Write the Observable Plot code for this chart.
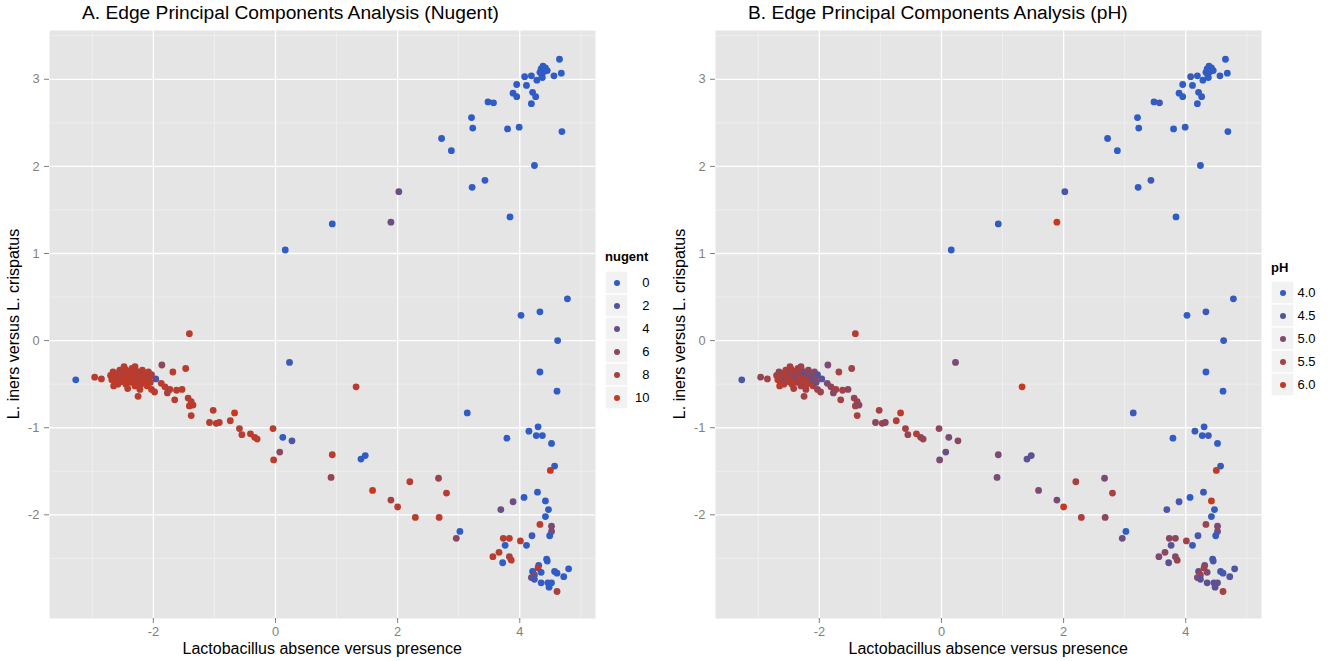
<!DOCTYPE html>
<html><head><meta charset="utf-8">
<script src="https://cdn.jsdelivr.net/npm/d3@7"></script>
<script src="https://cdn.jsdelivr.net/npm/@observablehq/plot@0.6"></script>
<style>
body{margin:0;background:#fff;font-family:"Liberation Sans",Arial,Helvetica,sans-serif;}
#wrap{position:relative;width:1332px;height:661px;overflow:hidden;background:#fff;}
.abs{position:absolute;white-space:nowrap;}
.ptitle{font-size:19.2px;color:#000;}
.xtitle{font-size:16px;color:#000;}
.ytitle{font-size:16px;color:#000;transform:rotate(-90deg);transform-origin:center center;}
.ltitle{font-size:13px;font-weight:bold;color:#000;}
</style></head><body><div id="wrap"></div>
<script>
// ---- data: [x, y, nugent, pH] ----
const ptsTop = [
[4.65,3.23,0,4.0],[4.68,3.07,0,4.0],[4.56,3.04,0,4.1],[4.35,3.12,0,4.0],[4.38,3.15,0,4.0],[4.42,3.13,0,4.0],
[4.40,3.09,0,4.2],[4.33,3.08,0,4.0],[4.45,3.10,0,4.0],[4.36,3.05,0,4.1],[4.28,2.99,0,4.0],[4.37,3.02,0,4.0],
[4.19,3.04,0,4.0],[4.08,3.03,0,4.2],[3.95,2.94,0,4.0],[4.11,2.93,0,4.0],[4.21,2.85,0,4.0],[4.26,2.80,0,4.1],
[3.89,2.84,0,4.0],[3.95,2.80,0,4.0],[4.19,2.72,0,4.0],[3.48,2.74,0,4.0],[3.57,2.73,0,4.2],[3.21,2.56,0,4.0],
[3.23,2.44,0,4.0],[3.80,2.43,0,4.0],[3.99,2.45,0,4.1],[4.69,2.40,0,4.0],[2.72,2.32,0,4.0],[2.88,2.18,0,4.0],
[4.24,2.01,0,4.0],[3.22,1.76,0,4.0],[3.43,1.84,0,4.2],[3.84,1.42,0,4.0]
];
const ptsMid = [
[2.02,1.71,4,4.3],[1.89,1.36,4,6.0],[0.93,1.34,0,4.1],[0.16,1.04,0,4.0],
[4.78,0.48,0,4.1],[4.02,0.29,0,4.0],[4.33,0.33,0,4.2],[4.62,0.00,0,4.1],[4.33,-0.36,0,4.0],[4.61,-0.58,0,4.0],
[0.23,-0.25,1,5.0],[1.32,-0.53,9,6.0],[3.14,-0.83,0,4.2]
];
const ptsLowRight = [
[3.79,-1.12,0,4.0],[4.15,-1.04,0,4.1],[4.30,-0.99,0,4.0],[4.27,-1.09,0,4.0],[4.37,-1.09,0,4.2],[4.52,-1.18,0,4.0],
[4.57,-1.44,0,4.1],[4.50,-1.49,10,5.8],[4.29,-1.74,0,4.2],[4.07,-1.80,0,4.0],[3.89,-1.85,4,4.3],[3.69,-1.94,4,4.4],
[4.42,-1.84,0,6.0],[4.47,-1.94,0,4.0],[4.42,-2.02,0,4.0],[4.33,-2.11,9,5.4],[4.52,-2.13,5,5.0],[4.52,-2.19,5,5.0],
[4.49,-2.24,0,4.0],[4.20,-2.24,1,4.3],[4.11,-2.35,0,4.1],[4.01,-2.30,9,5.5],[3.73,-2.27,9,5.2],[3.83,-2.27,9,5.3],
[3.76,-2.35,0,4.5],[3.66,-2.43,9,5.2],[3.56,-2.48,9,5.0],[3.83,-2.48,8,5.0],[3.86,-2.52,9,5.4],[3.72,-2.55,0,4.6],
[4.44,-2.51,0,4.2],[4.45,-2.53,0,4.4],[4.31,-2.58,0,4.8],[4.30,-2.61,9,5.6],[4.21,-2.65,0,4.7],[4.35,-2.66,0,5.0],
[4.24,-2.69,4,5.5],[4.19,-2.72,4,5.0],[4.24,-2.74,1,4.5],[4.57,-2.65,0,4.2],[4.61,-2.67,0,4.3],[4.72,-2.71,0,4.4],
[4.80,-2.62,0,4.4],[4.35,-2.78,0,4.6],[4.46,-2.78,0,4.5],[4.52,-2.78,0,4.7],[4.48,-2.83,0,4.6],[4.61,-2.88,8,5.6]
];
const ptsBand = [
[-1.41,0.08,9,5.7],[-3.27,-0.45,0,4.4],[-2.96,-0.42,9,5.3],[-2.85,-0.44,9,5.5],[-2.25,-0.64,9,5.5],[-1.96,-0.44,2,4.5],
[-1.86,-0.28,6,5.0],[-1.68,-0.36,9,5.6],[-1.47,-0.32,9,5.5],[-2.03,-0.56,9,5.3],[-1.98,-0.59,9,5.5],[-1.87,-0.49,9,5.0],
[-1.81,-0.53,9,5.3],[-1.73,-0.56,9,5.6],[-1.77,-0.60,8,5.2],[-1.62,-0.57,9,5.5],[-1.53,-0.56,9,5.2],[-1.65,-0.68,9,5.6],
[-1.43,-0.66,9,5.3],[-1.38,-0.70,9,5.5],[-1.41,-0.75,9,5.5],[-1.35,-0.74,9,5.2],[-1.38,-0.86,9,5.7],[-1.02,-0.80,9,5.6],
[-0.67,-0.83,10,5.9],[-1.08,-0.94,9,5.2],[-0.97,-0.95,9,5.5],[-0.92,-0.94,9,5.2],[-0.74,-0.92,9,5.7],[-0.59,-1.01,9,5.6],
[-0.55,-1.08,9,5.4],[-0.41,-1.07,9,5.8],[-0.34,-1.11,9,5.2],[-0.30,-1.13,9,5.4],[-0.04,-1.01,9,5.3],[-0.03,-1.37,9,5.0],
[0.07,-1.28,6,4.8],[0.12,-1.11,0,5.0],[0.27,-1.15,2,5.2],[0.93,-1.31,9,5.0],[0.91,-1.57,7,5.0],[1.40,-1.36,0,4.6],
[1.47,-1.32,0,4.6],[1.59,-1.72,10,5.0],[1.89,-1.83,8,4.9],[2.00,-1.91,9,6.0],[2.20,-1.62,9,5.6],[2.29,-2.03,9,5.6],
[2.67,-1.58,7,5.0],[2.80,-1.75,9,5.6],[2.68,-2.03,9,5.2],[3.02,-2.19,0,4.0],[2.96,-2.27,6,4.8]
];
const ptsCluster = [
[-2.70,-0.40,9,5.6],[-2.68,-0.45,9,5.8],[-2.66,-0.36,9,5.3],[-2.63,-0.42,9,5.7],[-2.62,-0.48,10,5.8],[-2.60,-0.38,9,5.6],
[-2.57,-0.44,9,5.2],[-2.55,-0.34,9,5.7],[-2.53,-0.40,9,5.8],[-2.52,-0.47,9,5.6],[-2.50,-0.37,8,5.4],[-2.48,-0.43,9,5.7],
[-2.46,-0.33,9,5.6],[-2.45,-0.50,9,5.8],[-2.43,-0.39,9,5.5],[-2.41,-0.45,10,5.9],[-2.40,-0.35,9,5.7],[-2.38,-0.41,9,5.0],
[-2.36,-0.48,9,5.6],[-2.35,-0.32,9,5.7],[-2.33,-0.38,9,5.4],[-2.31,-0.44,9,5.8],[-2.30,-0.52,10,5.6],[-2.28,-0.35,9,5.2],
[-2.26,-0.41,9,5.7],[-2.25,-0.47,9,5.6],[-2.23,-0.37,8,4.7],[-2.21,-0.43,9,5.6],[-2.20,-0.50,9,5.8],[-2.18,-0.34,9,5.4],
[-2.16,-0.40,9,5.2],[-2.15,-0.46,9,5.6],[-2.13,-0.38,9,5.0],[-2.11,-0.44,9,4.7],[-2.10,-0.52,10,5.7],[-2.08,-0.36,9,5.2],
[-2.06,-0.42,9,5.4],[-2.05,-0.48,9,4.8],[-2.03,-0.39,8,4.5],[-2.42,-0.55,9,5.6],[-2.58,-0.50,9,5.7],[-2.65,-0.52,9,5.8],
[-2.22,-0.56,9,5.6],[-2.48,-0.30,9,5.6],[-2.30,-0.30,9,5.5]
];

// ticks
const xMajor = [-2, 0, 2, 4];
const xMinor = [-3, -1, 1, 3, 5];
const yMajor = [-2, -1, 0, 1, 2, 3];
const yMinor = [-2.5, -1.5, -0.5, 0.5, 1.5, 2.5, 3.5];
const nugentLevels = [0, 2, 4, 6, 8, 10];
const phLevels = [4.0, 4.5, 5.0, 5.5, 6.0];
const phLabels = ["4.0", "4.5", "5.0", "5.5", "6.0"];

const lowCol = "#2F5CC6", highCol = "#C8381E";
const data = [...ptsTop, ...ptsMid, ...ptsLowRight, ...ptsBand, ...ptsCluster]
  .map(([x, y, n, p]) => ({x, y, nugent: n, ph: p}));

const FONT = '"Liberation Sans", Arial, Helvetica, sans-serif';
const wrap = document.getElementById("wrap");
const fmt = d => (d < 0 ? "-" : "") + Math.abs(d);

function colorScale(domain) {
  return {type: "linear", domain, range: [lowCol, highCol], interpolate: "rgb"};
}

function panel(field, domain) {
  return Plot.plot({
    width: 666, height: 661,
    marginLeft: 49, marginRight: 71, marginTop: 30, marginBottom: 43,
    style: {fontFamily: FONT, fontSize: "12.8px", color: "#7f7f7f", background: "transparent"},
    x: {domain: [-3.7, 5.24], label: null},
    y: {domain: [-3.19, 3.56], label: null},
    color: colorScale(domain),
    marks: [
      Plot.frame({fill: "#E5E5E5", stroke: "none"}),
      Plot.gridX(xMinor, {stroke: "#F2F2F2", strokeOpacity: 1, strokeWidth: 0.7}),
      Plot.gridY(yMinor, {stroke: "#F2F2F2", strokeOpacity: 1, strokeWidth: 0.7}),
      Plot.gridX(xMajor, {stroke: "#FFFFFF", strokeOpacity: 1, strokeWidth: 1.3}),
      Plot.gridY(yMajor, {stroke: "#FFFFFF", strokeOpacity: 1, strokeWidth: 1.3}),
      Plot.axisX(xMajor, {tickSize: 5, tickPadding: 3, label: null, tickFormat: fmt, fill: "#7f7f7f", stroke: "#7f7f7f"}),
      Plot.axisY(yMajor, {tickSize: 5, tickPadding: 5, label: null, tickFormat: fmt, fill: "#7f7f7f", stroke: "#7f7f7f"}),
      Plot.dot(data, {x: "x", y: "y", fill: field, r: 3.4, stroke: "none"})
    ]
  });
}

function legend(levels, labels, domain) {
  return Plot.plot({
    width: 46, height: levels.length * 23.5,
    marginLeft: 0, marginTop: 0, marginBottom: 0, marginRight: 23,
    style: {fontFamily: FONT, fontSize: "13px", color: "#000", background: "transparent"},
    x: {axis: null},
    y: {type: "band", domain: levels, padding: 0, axis: null},
    color: colorScale(domain),
    marks: [
      Plot.cell(levels, {y: d => d, fill: "#F2F2F2", stroke: "#FFFFFF", strokeWidth: 1.2}),
      Plot.dot(levels, {y: d => d, fill: d => d, r: 3, stroke: "none"}),
      Plot.text(levels, {y: d => d, text: labels, frameAnchor: "right", dx: 21, textAnchor: "end", fill: "#000", fontSize: 13})
    ]
  });
}

function place(el, left, top) {
  el.style.position = "absolute";
  el.style.left = left + "px";
  el.style.top = top + "px";
  wrap.appendChild(el);
  return el;
}
function label(text, cls, left, top) {
  const d = document.createElement("div");
  d.className = "abs " + cls;
  d.textContent = text;
  return place(d, left, top);
}

const panels = [
  {off: 0, field: "nugent", domain: [0, 10], title: "A. Edge Principal Components Analysis (Nugent)",
   lt: "nugent", levels: nugentLevels, labels: nugentLevels.map(String)},
  {off: 666, field: "ph", domain: [4, 6], title: "B. Edge Principal Components Analysis (pH)",
   lt: "pH", levels: phLevels, labels: phLabels}
];

for (const p of panels) {
  place(panel(p.field, p.domain), p.off, 0);
  label(p.title, "ptitle", p.off + 82, 2);
  const xt = label("Lactobacillus absence versus presence", "xtitle", 0, 640);
  xt.style.left = (p.off + 322 - xt.offsetWidth / 2) + "px";
  const yt = label("L. iners versus L. crispatus", "ytitle", 0, 0);
  yt.style.left = (p.off + 14 - yt.offsetWidth / 2) + "px";
  yt.style.top = (324 - yt.offsetHeight / 2) + "px";
  const lg = legend(p.levels, p.labels, p.domain);
  const lgTop = 331 - (p.levels.length * 23.5) / 2 + 8;
  place(lg, p.off + 605, lgTop);
  label(p.lt, "ltitle", p.off + 605, lgTop - 20);
}
</script></body></html>
